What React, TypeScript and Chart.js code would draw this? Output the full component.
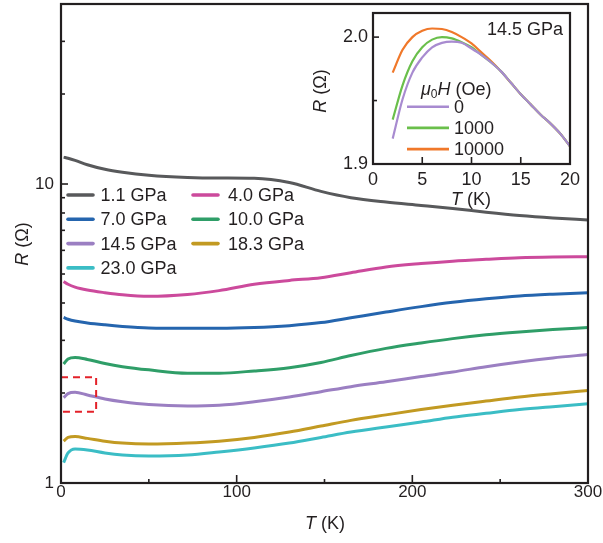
import React, { useEffect, useRef } from 'react';
import { Chart, registerables } from 'chart.js';

Chart.register(...registerables);

const FONT = '"Liberation Sans", Arial, Helvetica, sans-serif';
const INK = '#231f20';

// ---------- main panel data ----------
const temps = [1.5, 4, 8, 15, 25, 35, 50, 72, 90, 110, 130, 148, 165, 185, 205, 223, 242, 261, 280, 300];
const r11 = [12.3, 12.2, 12.0, 11.6, 11.2, 10.95, 10.7, 10.52, 10.47, 10.45, 10.12, 9.45, 9.0, 8.7, 8.48, 8.28, 8.05, 7.85, 7.7, 7.58];
const r40 = [4.72, 4.62, 4.52, 4.42, 4.33, 4.26, 4.21, 4.27, 4.4, 4.62, 4.76, 4.86, 5.05, 5.28, 5.42, 5.52, 5.6, 5.67, 5.7, 5.71];
const r70 = [3.58, 3.53, 3.48, 3.43, 3.38, 3.34, 3.3, 3.29, 3.29, 3.31, 3.36, 3.44, 3.57, 3.73, 3.89, 4.02, 4.13, 4.22, 4.28, 4.33];
const r100 = [2.5, 2.6, 2.63, 2.59, 2.51, 2.45, 2.39, 2.33, 2.33, 2.37, 2.43, 2.53, 2.67, 2.82, 2.94, 3.04, 3.13, 3.2, 3.26, 3.31];
const r145 = [1.93, 1.99, 2.01, 1.97, 1.91, 1.87, 1.83, 1.81, 1.82, 1.87, 1.94, 2.02, 2.1, 2.18, 2.27, 2.35, 2.45, 2.54, 2.62, 2.69];
const r183 = [1.38, 1.42, 1.43, 1.41, 1.38, 1.36, 1.35, 1.36, 1.38, 1.42, 1.48, 1.55, 1.62, 1.69, 1.76, 1.82, 1.88, 1.94, 1.99, 2.04];
const r230 = [1.17, 1.26, 1.3, 1.29, 1.26, 1.24, 1.23, 1.24, 1.27, 1.31, 1.36, 1.42, 1.48, 1.54, 1.6, 1.66, 1.71, 1.76, 1.8, 1.84];

const seriesLabels = ['1.1 GPa', '4.0 GPa', '7.0 GPa', '10.0 GPa', '14.5 GPa', '18.3 GPa', '23.0 GPa'];
const seriesValues = [r11, r40, r70, r100, r145, r183, r230];
const seriesColors = ['#58595b', '#cc4a9c', '#2565ae', '#2f9e68', '#9b7fc2', '#c29a22', '#3bbdc5'];

const xMajorTicks = [0, 100, 200, 300];
const xMinorTicks = [50, 150, 250];
const yMajorTicks = [1, 10];
const yMinorTicks = [2, 3, 4, 5, 6, 7, 8, 9, 20, 30];

const boxT = [0, 20];
const boxR = [1.73, 2.26];

// ---------- inset data ----------
const insetT = [2, 3, 4, 5, 6, 7, 8, 9, 10, 11, 12, 13, 14, 15, 16, 17, 18, 19, 20];
const inset0 = [1.92, 1.951, 1.972, 1.984, 1.992, 1.9955, 1.9965, 1.9955, 1.991, 1.986, 1.98, 1.973, 1.964, 1.955, 1.947, 1.939, 1.932, 1.924, 1.914];
const inset1000 = [1.935, 1.962, 1.981, 1.992, 1.998, 2.0, 1.999, 1.996, 1.992, 1.986, 1.98, 1.973, 1.964, 1.955, 1.947, 1.939, 1.932, 1.924, 1.914];
const inset10000 = [1.972, 1.99, 2.0, 2.005, 2.0068, 2.0064, 2.004, 2.0, 1.995, 1.988, 1.981, 1.973, 1.964, 1.955, 1.947, 1.939, 1.932, 1.924, 1.914];
const insetLabels = ['0', '1000', '10000'];
const insetValues = [inset0, inset1000, inset10000];
const insetColors = ['#a88bd0', '#6abf4b', '#f0782a'];
const insetXTicks = [0, 5, 10, 15, 20];
const insetXMajorMarks = [5, 10, 15];
const insetYTicks = [1.9, 2.0];
const insetYMinor = [1.95];

type Seg = { t: string; italic?: boolean; sub?: boolean };

function segFont(s: Seg, size: number) {
  const sz = s.sub ? Math.round(size * 0.65) : size;
  return `${s.italic ? 'italic ' : ''}${sz}px ${FONT}`;
}

function drawMixed(ctx: CanvasRenderingContext2D, segs: Seg[], x: number, y: number, size: number, align: 'left' | 'center' | 'right', rotate = false) {
  ctx.save();
  ctx.fillStyle = INK;
  ctx.textBaseline = 'middle';
  ctx.textAlign = 'left';
  let total = 0;
  const widths = segs.map((s) => {
    ctx.font = segFont(s, size);
    const w = ctx.measureText(s.t).width;
    total += w;
    return w;
  });
  ctx.translate(x, y);
  if (rotate) ctx.rotate(-Math.PI / 2);
  let cx = align === 'left' ? 0 : align === 'center' ? -total / 2 : -total;
  segs.forEach((s, i) => {
    ctx.font = segFont(s, size);
    ctx.fillText(s.t, cx, s.sub ? size * 0.28 : 0);
    cx += widths[i];
  });
  ctx.restore();
}

function drawTicks(chart: any, xMaj: number[], xMajLen: number, xMin: number[], xMinLen: number, yMaj: number[], yMajLen: number, yMin: number[], yMinLen: number) {
  const { ctx, chartArea: a, scales } = chart;
  ctx.save();
  ctx.strokeStyle = INK;
  ctx.lineWidth = 1.6;
  const xs = (vals: number[], len: number) =>
    vals.forEach((v) => {
      const px = scales.x.getPixelForValue(v);
      ctx.beginPath();
      ctx.moveTo(px, a.bottom);
      ctx.lineTo(px, a.bottom - len);
      ctx.stroke();
    });
  const ys = (vals: number[], len: number) =>
    vals.forEach((v) => {
      const py = scales.y.getPixelForValue(v);
      ctx.beginPath();
      ctx.moveTo(a.left, py);
      ctx.lineTo(a.left + len, py);
      ctx.stroke();
    });
  xs(xMaj, xMajLen);
  xs(xMin, xMinLen);
  ys(yMaj, yMajLen);
  ys(yMin, yMinLen);
  ctx.lineWidth = 2.2;
  ctx.strokeRect(a.left, a.top, a.right - a.left, a.bottom - a.top);
  ctx.restore();
}

const mainDecor = {
  id: 'mainDecor',
  afterDatasetsDraw(chart: any) {
    const { ctx, scales } = chart;
    // red dashed box
    const x0 = scales.x.getPixelForValue(boxT[0]);
    const x1 = scales.x.getPixelForValue(boxT[1]);
    const y0 = scales.y.getPixelForValue(boxR[1]);
    const y1 = scales.y.getPixelForValue(boxR[0]);
    ctx.save();
    ctx.strokeStyle = '#e32129';
    ctx.lineWidth = 2;
    ctx.setLineDash([7, 5]);
    ctx.strokeRect(x0, y0, x1 - x0, y1 - y0);
    ctx.restore();

    drawTicks(chart, xMajorTicks, 8, xMinorTicks, 4, yMajorTicks, 7, yMinorTicks, 4);

    // legend
    ctx.save();
    chart.data.datasets.forEach((ds: any, i: number) => {
      const col = i % 2;
      const row = Math.floor(i / 2);
      const lx = col === 0 ? 68 : 193;
      const tx = col === 0 ? 100.5 : 228;
      const y = 195 + row * 24.3;
      ctx.strokeStyle = ds.borderColor;
      ctx.lineWidth = 3.6;
      ctx.lineCap = 'round';
      ctx.beginPath();
      ctx.moveTo(lx, y);
      ctx.lineTo(lx + 25, y);
      ctx.stroke();
      ctx.fillStyle = INK;
      ctx.font = `18px ${FONT}`;
      ctx.textBaseline = 'middle';
      ctx.textAlign = 'left';
      ctx.fillText(ds.label, tx, y + 1);
    });
    ctx.restore();

    drawMixed(ctx, [{ t: 'T', italic: true }, { t: ' (K)' }], 325, 524, 18, 'center');
    drawMixed(ctx, [{ t: 'R', italic: true }, { t: ' (Ω)' }], 23, 244, 18, 'center', true);
  },
};

const insetDecor = {
  id: 'insetDecor',
  afterDatasetsDraw(chart: any) {
    const { ctx } = chart;
    drawTicks(chart, insetXMajorMarks, 7, [], 0, [2.0], 6, insetYMinor, 4);
    // legend
    drawMixed(ctx, [{ t: 'μ', italic: true }, { t: '0', sub: true }, { t: 'H', italic: true }, { t: ' (Oe)' }], 121, 90, 18, 'left');
    ctx.save();
    chart.data.datasets.forEach((ds: any, i: number) => {
      const y = 106.7 + i * 21.2;
      ctx.strokeStyle = ds.borderColor;
      ctx.lineWidth = 2.6;
      ctx.beginPath();
      ctx.moveTo(107, y);
      ctx.lineTo(149, y);
      ctx.stroke();
      ctx.fillStyle = INK;
      ctx.font = `18px ${FONT}`;
      ctx.textBaseline = 'middle';
      ctx.textAlign = 'left';
      ctx.fillText(ds.label, 154, y + 1);
    });
    ctx.restore();
    drawMixed(ctx, [{ t: '14.5 GPa' }], 263, 30, 18, 'right');
    drawMixed(ctx, [{ t: 'T', italic: true }, { t: ' (K)' }], 171, 200, 18, 'center');
    drawMixed(ctx, [{ t: 'R', italic: true }, { t: ' (Ω)' }], 21, 91, 18, 'center', true);
  },
};

const fixX = (h: number) => (s: any) => {
  s.height = h;
  s.paddingLeft = 0;
  s.paddingRight = 0;
  s.paddingTop = 0;
  s.paddingBottom = 0;
};
const fixY = (w: number) => (s: any) => {
  s.width = w;
  s.paddingLeft = 0;
  s.paddingRight = 0;
  s.paddingTop = 0;
  s.paddingBottom = 0;
};

export default function App() {
  const mainRef = useRef<HTMLCanvasElement>(null);
  const insetRef = useRef<HTMLCanvasElement>(null);

  useEffect(() => {
    const main = new Chart(mainRef.current as HTMLCanvasElement, {
      type: 'line',
      data: {
        datasets: seriesLabels.map((label, i) => ({
          label,
          data: temps.map((t, j) => ({ x: t, y: seriesValues[i][j] })),
          borderColor: seriesColors[i],
          backgroundColor: seriesColors[i],
          borderWidth: 3,
          pointRadius: 0,
          cubicInterpolationMode: 'monotone' as const,
          fill: false,
        })),
      },
      options: {
        animation: false,
        responsive: false,
        events: [],
        layout: { padding: { top: 4, right: 15, left: 0, bottom: 0 } },
        plugins: { legend: { display: false }, tooltip: { enabled: false } },
        scales: {
          x: {
            type: 'linear',
            min: 0,
            max: 300,
            afterBuildTicks: (s: any) => {
              s.ticks = xMajorTicks.map((v) => ({ value: v }));
            },
            afterFit: fixX(60),
            grid: { display: false, drawTicks: false },
            border: { display: false },
            ticks: { padding: -1, autoSkip: false, maxRotation: 0, color: INK, font: { family: FONT, size: 17 } },
          },
          y: {
            type: 'logarithmic',
            min: 1,
            max: 40,
            afterBuildTicks: (s: any) => {
              s.ticks = yMajorTicks.map((v) => ({ value: v }));
            },
            afterFit: fixY(61),
            grid: { display: false, drawTicks: false },
            border: { display: false },
            ticks: { padding: 7, autoSkip: false, color: INK, font: { family: FONT, size: 17 }, callback: (v: any) => String(v) },
          },
        },
      },
      plugins: [mainDecor],
    } as any);

    const inset = new Chart(insetRef.current as HTMLCanvasElement, {
      type: 'line',
      data: {
        datasets: insetLabels.map((label, i) => ({
          label,
          data: insetT.map((t, j) => ({ x: t, y: insetValues[i][j] })),
          borderColor: insetColors[i],
          backgroundColor: insetColors[i],
          borderWidth: 2.2,
          pointRadius: 0,
          cubicInterpolationMode: 'monotone' as const,
          fill: false,
        })),
      },
      options: {
        animation: false,
        responsive: false,
        events: [],
        layout: { padding: { top: 13, right: 33, left: 0, bottom: 0 } },
        plugins: { legend: { display: false }, tooltip: { enabled: false } },
        scales: {
          x: {
            type: 'linear',
            min: 0,
            max: 20,
            afterBuildTicks: (s: any) => {
              s.ticks = insetXTicks.map((v) => ({ value: v }));
            },
            afterFit: fixX(51),
            grid: { display: false, drawTicks: false },
            border: { display: false },
            ticks: { padding: 5, autoSkip: false, maxRotation: 0, color: INK, font: { family: FONT, size: 18 } },
          },
          y: {
            type: 'linear',
            min: 1.9,
            max: 2.019,
            afterBuildTicks: (s: any) => {
              s.ticks = insetYTicks.map((v) => ({ value: v }));
            },
            afterFit: fixY(73),
            grid: { display: false, drawTicks: false },
            border: { display: false },
            ticks: { padding: 5, autoSkip: false, color: INK, font: { family: FONT, size: 18 }, callback: (v: any) => Number(v).toFixed(1) },
          },
        },
      },
      plugins: [insetDecor],
    } as any);

    return () => {
      main.destroy();
      inset.destroy();
    };
  }, []);

  return (
    <div style={{ position: 'absolute', left: 0, top: 0, width: 603, height: 543, background: '#fff' }}>
      <canvas ref={mainRef} width={603} height={543} style={{ position: 'absolute', left: 0, top: 0, display: 'block' }} />
      <canvas ref={insetRef} width={303} height={215} style={{ position: 'absolute', left: 300, top: 0, display: 'block' }} />
    </div>
  );
}
